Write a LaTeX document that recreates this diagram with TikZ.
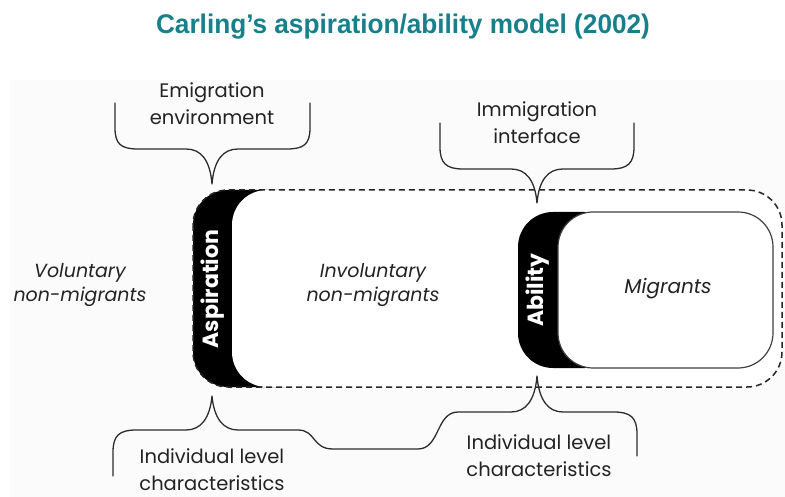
\documentclass[tikz,border=0pt]{standalone}
\usepackage{fontspec}
\setmainfont{Poppins}
\newfontfamily\titlefont[FakeStretch=0.97]{Liberation Sans}
\definecolor{titleteal}{RGB}{23,128,138}
\definecolor{bgpanel}{RGB}{251,251,251}
\definecolor{linegray}{RGB}{45,45,45}
\definecolor{textgray}{RGB}{35,35,35}
\begin{document}
\begin{tikzpicture}[x=1pt,y=-1pt,
  lbl/.style={font=\fontsize{19.5}{27}\selectfont, text=textgray, align=center, inner sep=0pt},
  ital/.style={font=\fontsize{19}{24}\selectfont\itshape, text=textgray, align=center, inner sep=0pt},
  bandtext/.style={font=\fontsize{22}{22}\selectfont\bfseries, text=white, rotate=90, inner sep=0pt},
  bracepath/.style={draw=linegray, line width=1.3pt, line join=round, line cap=round},
  outerline/.style={draw=black!85, line width=1.5pt, dash pattern=on 6pt off 4pt},
  migbox/.style={draw=black!75, line width=1.2pt, fill=white, rounded corners=35pt},
]
\useasboundingbox (0,0) rectangle (785,497);
% background panel
\fill[bgpanel] (10,80) rectangle (785,497);
% title
\node[font=\titlefont\bfseries\fontsize{27}{32}\selectfont, text=titleteal, inner sep=0pt] (title) at (403,27) {Carling’s aspiration/ability model (2002)};
% outer region with aspiration band
\fill[black, rounded corners=35pt] (193,190) rectangle (320,387);
\fill[white, rounded corners=35pt] (232,190) rectangle (782,387);
\draw[outerline, rounded corners=35pt] (193,190) rectangle (782,387);
% ability band and migrants box
\fill[black, rounded corners=35pt] (518,212) rectangle (620,368);
\draw[migbox] (558,212) rectangle (773,368);
% band texts
\node[bandtext] (asp) at (213,289) {Aspiration};
\node[bandtext] (abil) at (538,290) {Ability};
% region texts
\node[ital] (vol) at (80,285) {Voluntary\\non-migrants};
\node[ital] (invol) at (373,285) {Involuntary\\non-migrants};
\node[font=\fontsize{20}{24}\selectfont\itshape, text=textgray, inner sep=0pt] (mig) at (668,289) {Migrants};
% brace labels
\node[lbl] (emig) at (212,104) {Emigration\\environment};
\node[lbl] (immig) at (537,123) {Immigration\\interface};
\node[lbl] (indl) at (212,470) {Individual level\\characteristics};
\node[lbl] (indr) at (539,456) {Individual level\\characteristics};
% brace tips
\coordinate (tipTL) at (212,184);
\coordinate (tipTR) at (537,203);
\coordinate (tipBL) at (212,396);
\coordinate (tipBR) at (537,376);
% top-left brace
\draw[bracepath] (115,103) -- (115,128) .. controls (115,144) and (121,149) .. (138,149)
  -- (186,149) .. controls (201,149) and (210,160) .. (tipTL)
  .. controls (214,160) and (223,149) .. (238,149) -- (287,149)
  .. controls (304,149) and (310,144) .. (310,128) -- (310,103);
% top-right brace
\draw[bracepath] (440,123) -- (440,147) .. controls (440,163) and (446,169) .. (463,169)
  -- (511,169) .. controls (526,169) and (535,180) .. (tipTR)
  .. controls (539,180) and (548,169) .. (563,169) -- (611,169)
  .. controls (628,169) and (634,163) .. (634,147) -- (634,123);
% bottom braces (joined)
\draw[bracepath] (113,476) -- (113,452) .. controls (113,436) and (119,430) .. (136,430)
  -- (186,430) .. controls (201,430) and (210,418) .. (tipBL)
  .. controls (214,418) and (223,430) .. (238,430) -- (298,430)
  .. controls (316,430) and (312,449) .. (333,449) -- (418,449)
  .. controls (440,449) and (436,412) .. (458,412) -- (511,412)
  .. controls (526,412) and (535,400) .. (tipBR)
  .. controls (539,400) and (548,412) .. (563,412) -- (614,412)
  .. controls (631,412) and (637,418) .. (637,434) -- (637,456);
\end{tikzpicture}
\end{document}
